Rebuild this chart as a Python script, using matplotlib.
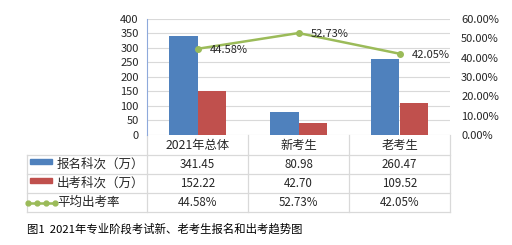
import numpy as np
import matplotlib
matplotlib.use("Agg")
import matplotlib.pyplot as plt
from matplotlib.lines import Line2D
from matplotlib.patches import Rectangle

plt.rcParams["font.family"] = ["Noto Sans CJK SC", "DejaVu Sans"]

categories = ["2021年总体", "新考生", "老考生"]
registered = [341.45, 80.98, 260.47]
attended = [152.22, 42.70, 109.52]
rate = [44.58, 52.73, 42.05]
series_names = ["报名科次（万）", "出考科次（万）", "平均出考率"]
caption = "图1  2021年专业阶段考试新、老考生报名和出考趋势图"

C_BLUE, C_RED, C_GREEN = "#4F81BD", "#C0504D", "#9BBB59"
GRID = "#D9D9D9"
TXT = "#262626"

W, H = 512, 245
fig = plt.figure(figsize=(W / 100, H / 100), dpi=100)
ax = fig.add_axes([147 / W, 1 - 135 / H, 303 / W, 116 / H])
ax2 = ax.twinx()

x = np.arange(len(categories))
w = 0.285
ax.bar(x - w / 2, registered, w, color=C_BLUE, zorder=2)
ax.bar(x + w / 2, attended, w, color=C_RED, zorder=2)
ax.set_xlim(-0.5, 2.5)
ax.set_ylim(0, 400)
ax.set_yticks(range(0, 401, 50))
ax.grid(axis="y", color=GRID, lw=0.8, zorder=0)
ax.set_xticks([])
ax.tick_params(axis="y", length=0, labelsize=8, colors=TXT, pad=6)
for s in ["top", "right", "bottom"]:
    ax.spines[s].set_visible(False)
ax.spines["left"].set_color("#8EA9DB")

ax2.plot(x, rate, color=C_GREEN, lw=1.8, marker="o", ms=4, zorder=3)
for xi, r in zip(x, rate):
    ax2.annotate(f"{r:.2f}%", (xi, r), xytext=(9, -1), textcoords="offset points",
                 fontsize=8, color=TXT, va="center", ha="left")
ax2.set_ylim(0, 60)
ax2.set_yticks(range(0, 61, 10))
ax2.set_yticklabels([f"{v:.2f}%" for v in range(0, 61, 10)])
ax2.tick_params(axis="y", length=0, labelsize=8, colors=TXT, pad=8)
for s in ax2.spines.values():
    s.set_visible(False)

# data table under the plot
tr = ax.get_xaxis_transform()
row_h = 19 / 116
head_h = 20 / 116
left = -0.5 - 120 / 101
ys = [0, -head_h] + [-head_h - row_h * (i + 1) for i in range(3)]
kw = dict(transform=tr, color=GRID, lw=0.9, clip_on=False)
for yy in ys[1:]:
    ax.add_line(Line2D([left, 2.5], [yy, yy], **kw))
for xx in [-0.5, 0.5, 1.5, 2.5]:
    ax.add_line(Line2D([xx, xx], [0, ys[-1]], **kw))
ax.add_line(Line2D([left, left], [ys[1], ys[-1]], **kw))

for xi, c in zip(x, categories):
    ax.text(xi, -head_h / 2, c, transform=tr, ha="center", va="center", fontsize=8.8, color=TXT)
rows = [[f"{v:.2f}" for v in registered], [f"{v:.2f}" for v in attended],
        [f"{v:.2f}%" for v in rate]]
for i, (name, vals) in enumerate(zip(series_names, rows)):
    yc = ys[i + 1] - row_h / 2
    for xi, v in zip(x, vals):
        ax.text(xi, yc, v, transform=tr, ha="center", va="center", fontsize=8.3, color=TXT)
    ax.text(left + 30 / 101, yc, name, transform=tr, ha="left", va="center",
            fontsize=9, color=TXT)
    kx0, kx1 = left + 3 / 101, left + 25 / 101
    if i < 2:
        ax.add_patch(Rectangle((kx0, yc + 0.005), kx1 - kx0, 0.045, transform=tr,
                               color=[C_BLUE, C_RED][i], clip_on=False))
    else:
        ax.add_line(Line2D([left + 1 / 101, kx1 + 3 / 101], [yc, yc], transform=tr,
                           color=C_GREEN, lw=1.8, clip_on=False))
        ax.plot(np.linspace(left + 1 / 101, kx1 + 3 / 101, 4), [yc] * 4, "o",
                color=C_GREEN, ms=3.5, transform=tr, clip_on=False)

fig.text(27 / W, 1 - 229 / H, caption, fontsize=8.2, color="#000000", va="center",
         ha="left")

fig.savefig("out.png", dpi=100, facecolor="white")
